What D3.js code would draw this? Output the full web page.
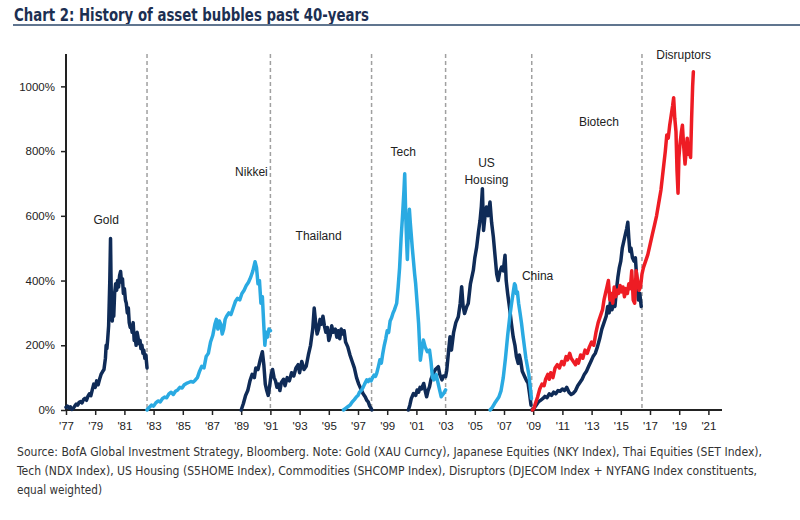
<!DOCTYPE html>
<html><head><meta charset="utf-8">
<script src="https://cdn.jsdelivr.net/npm/d3@7"></script>
<style>body{margin:0;background:#fff}svg{display:block}</style>
</head><body><svg id="c" width="800" height="520"></svg>
<script>
const yTicks=[0,200,400,600,800,1000];
const xTickYears=[1977,1979,1981,1983,1985,1987,1989,1991,1993,1995,1997,1999,2001,2003,2005,2007,2009,2011,2013,2015,2017,2019,2021];
const dividerYears=[1982.55,1991.0,1997.93,2003.0,2008.9,2016.45];
const labels=[
 {name:"Gold",year:1979.75,value:583},
 {name:"Nikkei",year:1989.7,value:734},
 {name:"Thailand",year:1994.3,value:535},
 {name:"Tech",year:2000.1,value:795},
 {name:"US",year:2005.8,value:760},
 {name:"Housing",year:2005.8,value:708},
 {name:"China",year:2009.3,value:410},
 {name:"Biotech",year:2013.5,value:887},
 {name:"Disruptors",year:2019.3,value:1095}
];
const gold=[[1977.0,8],[1977.1,12],[1977.2,6],[1977.3,10],[1977.4,2],[1977.5,5],[1977.6,12],[1977.7,18],[1977.8,15],[1977.9,24],[1978.0,26],[1978.1,22],[1978.2,32],[1978.3,36],[1978.4,30],[1978.5,42],[1978.6,50],[1978.7,44],[1978.8,62],[1978.9,80],[1979.0,70],[1979.1,90],[1979.2,78],[1979.3,95],[1979.4,110],[1979.5,118],[1979.6,125],[1979.7,160],[1979.75,200],[1979.8,190],[1979.85,215],[1979.92,260],[1980.0,400],[1980.05,530],[1980.08,420],[1980.12,300],[1980.17,275],[1980.22,330],[1980.27,290],[1980.33,360],[1980.4,390],[1980.47,370],[1980.53,400],[1980.6,380],[1980.67,415],[1980.74,428],[1980.8,395],[1980.87,405],[1980.93,360],[1981.0,375],[1981.07,340],[1981.13,330],[1981.2,300],[1981.27,315],[1981.33,270],[1981.4,255],[1981.47,260],[1981.53,240],[1981.6,270],[1981.67,215],[1981.73,230],[1981.8,200],[1981.87,240],[1981.93,225],[1982.0,205],[1982.07,215],[1982.13,190],[1982.2,200],[1982.27,175],[1982.33,185],[1982.4,160],[1982.47,170],[1982.55,130]];
const nikkei=[[1982.55,0],[1982.7,8],[1982.85,15],[1983.0,12],[1983.15,22],[1983.3,28],[1983.45,25],[1983.6,35],[1983.75,40],[1983.9,38],[1984.05,50],[1984.2,55],[1984.35,48],[1984.5,58],[1984.65,62],[1984.8,70],[1984.95,68],[1985.1,78],[1985.25,82],[1985.4,85],[1985.55,88],[1985.7,86],[1985.85,92],[1986.0,100],[1986.15,120],[1986.3,135],[1986.45,130],[1986.6,165],[1986.75,175],[1986.9,210],[1987.05,230],[1987.2,265],[1987.3,280],[1987.4,250],[1987.5,275],[1987.6,265],[1987.7,235],[1987.8,250],[1987.9,280],[1988.0,290],[1988.15,300],[1988.3,295],[1988.45,315],[1988.6,335],[1988.75,345],[1988.9,340],[1989.05,360],[1989.2,370],[1989.35,385],[1989.5,395],[1989.65,410],[1989.8,430],[1989.95,458],[1990.05,440],[1990.15,390],[1990.25,400],[1990.35,330],[1990.45,350],[1990.55,260],[1990.62,200],[1990.7,240],[1990.8,225],[1990.9,250],[1991.0,245]];
const thailand=[[1989.0,0],[1989.15,20],[1989.3,45],[1989.45,60],[1989.6,90],[1989.75,110],[1989.9,100],[1990.0,130],[1990.15,125],[1990.3,155],[1990.45,180],[1990.55,140],[1990.65,80],[1990.75,60],[1990.85,45],[1990.95,75],[1991.05,110],[1991.15,125],[1991.25,100],[1991.35,90],[1991.45,70],[1991.55,80],[1991.65,60],[1991.75,85],[1991.9,95],[1992.0,75],[1992.15,100],[1992.3,90],[1992.45,115],[1992.6,105],[1992.75,130],[1992.9,140],[1993.0,115],[1993.15,150],[1993.3,125],[1993.45,135],[1993.6,170],[1993.75,200],[1993.9,250],[1994.0,315],[1994.1,270],[1994.2,235],[1994.3,250],[1994.4,280],[1994.5,265],[1994.6,290],[1994.7,260],[1994.8,240],[1994.9,255],[1995.0,215],[1995.1,230],[1995.2,260],[1995.3,240],[1995.45,250],[1995.55,225],[1995.65,245],[1995.75,220],[1995.85,250],[1995.95,235],[1996.05,245],[1996.15,210],[1996.3,195],[1996.45,170],[1996.6,150],[1996.75,130],[1996.9,100],[1997.05,80],[1997.2,65],[1997.35,50],[1997.5,40],[1997.6,30],[1997.7,25],[1997.8,12],[1997.9,5],[1997.95,0]];
const tech=[[1996.0,0],[1996.15,5],[1996.3,10],[1996.45,15],[1996.6,25],[1996.75,32],[1996.9,41],[1997.0,45],[1997.1,55],[1997.25,62],[1997.35,70],[1997.45,80],[1997.6,93],[1997.7,88],[1997.8,95],[1997.9,90],[1998.0,100],[1998.1,108],[1998.2,104],[1998.28,113],[1998.4,135],[1998.5,155],[1998.6,145],[1998.7,175],[1998.8,200],[1998.9,220],[1999.0,245],[1999.1,240],[1999.2,275],[1999.3,285],[1999.4,300],[1999.5,310],[1999.65,330],[1999.75,380],[1999.85,440],[1999.95,530],[2000.05,600],[2000.15,680],[2000.2,730],[2000.27,600],[2000.33,520],[2000.38,465],[2000.45,560],[2000.52,620],[2000.58,580],[2000.65,540],[2000.72,500],[2000.8,460],[2000.88,420],[2000.95,390],[2001.05,330],[2001.15,268],[2001.22,200],[2001.27,154],[2001.35,180],[2001.48,216],[2001.6,195],[2001.75,180],[2001.9,185],[2002.0,150],[2002.1,100],[2002.2,93],[2002.35,110],[2002.5,80],[2002.6,60],[2002.7,41],[2002.85,50],[2003.0,62]];
const usHousing=[[2000.45,0],[2000.55,15],[2000.65,35],[2000.8,51],[2000.95,45],[2001.05,62],[2001.15,55],[2001.25,70],[2001.35,65],[2001.5,82],[2001.6,60],[2001.7,41],[2001.8,60],[2001.9,72],[2002.0,95],[2002.16,113],[2002.3,125],[2002.5,134],[2002.6,110],[2002.75,93],[2002.85,105],[2003.0,103],[2003.08,123],[2003.2,180],[2003.3,226],[2003.4,185],[2003.55,240],[2003.7,270],[2003.87,288],[2004.0,330],[2004.1,381],[2004.2,320],[2004.3,298],[2004.45,320],[2004.55,329],[2004.7,390],[2004.9,432],[2005.0,470],[2005.13,504],[2005.25,550],[2005.36,586],[2005.45,630],[2005.52,684],[2005.6,555],[2005.7,600],[2005.8,627],[2005.9,600],[2006.04,643],[2006.15,580],[2006.27,535],[2006.4,470],[2006.5,420],[2006.6,400],[2006.7,425],[2006.84,442],[2006.95,430],[2007.07,478],[2007.15,400],[2007.25,360],[2007.4,309],[2007.5,270],[2007.63,226],[2007.75,200],[2007.85,165],[2007.97,144],[2008.05,170],[2008.15,150],[2008.25,120],[2008.42,103],[2008.55,90],[2008.65,83],[2008.75,50],[2008.85,15]];
const china=[[2006.05,0],[2006.2,8],[2006.35,20],[2006.5,30],[2006.65,40],[2006.8,60],[2006.95,100],[2007.1,160],[2007.25,230],[2007.4,290],[2007.52,330],[2007.62,360],[2007.72,390],[2007.78,385],[2007.85,360],[2007.92,365],[2008.0,330],[2008.1,300],[2008.2,268],[2008.3,230],[2008.4,195],[2008.5,160],[2008.6,135],[2008.7,110],[2008.8,70],[2008.88,35]];
const biotech=[[2008.9,0],[2009.05,5],[2009.2,15],[2009.35,25],[2009.5,30],[2009.65,35],[2009.8,42],[2009.95,38],[2010.1,50],[2010.25,45],[2010.4,55],[2010.55,50],[2010.7,60],[2010.85,58],[2011.0,65],[2011.15,60],[2011.3,70],[2011.45,55],[2011.6,48],[2011.75,52],[2011.9,60],[2012.05,75],[2012.2,85],[2012.35,95],[2012.5,110],[2012.65,120],[2012.8,135],[2012.95,150],[2013.1,165],[2013.25,175],[2013.4,195],[2013.55,220],[2013.7,250],[2013.85,270],[2014.0,290],[2014.1,320],[2014.2,300],[2014.3,340],[2014.4,310],[2014.5,330],[2014.6,320],[2014.7,370],[2014.8,410],[2014.9,440],[2015.0,460],[2015.1,500],[2015.2,520],[2015.3,540],[2015.4,560],[2015.48,580],[2015.55,530],[2015.62,490],[2015.7,500],[2015.8,470],[2015.9,460],[2016.0,470],[2016.1,400],[2016.2,340],[2016.3,360],[2016.4,320]];
const disruptors=[[2008.95,0],[2009.05,5],[2009.15,20],[2009.3,40],[2009.45,65],[2009.6,80],[2009.75,75],[2009.85,95],[2010.0,110],[2010.1,95],[2010.2,115],[2010.35,100],[2010.5,130],[2010.65,140],[2010.8,130],[2010.95,150],[2011.1,140],[2011.25,165],[2011.35,155],[2011.5,175],[2011.6,160],[2011.75,150],[2011.9,140],[2012.0,155],[2012.1,145],[2012.25,170],[2012.4,160],[2012.55,185],[2012.7,175],[2012.85,195],[2013.0,210],[2013.15,200],[2013.3,240],[2013.45,270],[2013.6,290],[2013.75,310],[2013.85,340],[2013.95,360],[2014.05,380],[2014.15,400],[2014.25,340],[2014.35,360],[2014.45,330],[2014.55,380],[2014.65,350],[2014.75,370],[2014.85,360],[2014.95,385],[2015.05,365],[2015.15,380],[2015.25,350],[2015.35,375],[2015.45,360],[2015.55,390],[2015.65,375],[2015.75,430],[2015.85,340],[2015.95,330],[2016.05,430],[2016.15,400],[2016.25,370],[2016.35,380],[2016.45,420],[2016.55,440],[2016.7,460],[2016.85,480],[2017.0,510],[2017.15,540],[2017.3,570],[2017.45,600],[2017.6,640],[2017.75,680],[2017.85,720],[2017.95,760],[2018.05,800],[2018.15,850],[2018.25,840],[2018.35,880],[2018.45,910],[2018.55,940],[2018.62,965],[2018.7,900],[2018.78,860],[2018.85,740],[2018.92,670],[2018.98,780],[2019.05,820],[2019.15,860],[2019.22,880],[2019.3,820],[2019.4,760],[2019.48,800],[2019.55,840],[2019.62,790],[2019.7,800],[2019.78,780],[2019.85,900],[2019.92,1000],[2019.97,1045]];

const NAVY="#0f2b57", LIGHT="#2aaae2", RED="#ee1c24";
const seriesList=[
 {data:gold,color:NAVY},{data:nikkei,color:LIGHT},{data:thailand,color:NAVY},
 {data:usHousing,color:NAVY},{data:tech,color:LIGHT},{data:china,color:LIGHT},
 {data:biotech,color:NAVY},{data:disruptors,color:RED}
];

const svg=d3.select("#c");
const x=d3.scaleLinear().domain([1977,2022]).range([66,723]);
const y=d3.scaleLinear().domain([0,1100]).range([410,54]);

svg.append("text").attr("x",14).attr("y",21).attr("font-family","'Liberation Sans Narrow','DejaVu Sans Condensed',sans-serif")
 .attr("font-weight","bold").attr("font-size",18.5).attr("fill","#1c2f52").attr("textLength",355).attr("lengthAdjust","spacingAndGlyphs")
 .text("Chart 2: History of asset bubbles past 40-years");
svg.append("line").attr("x1",13).attr("x2",800).attr("y1",25).attr("y2",25).attr("stroke","#60758f").attr("stroke-width",2);

svg.append("g").selectAll("line").data(dividerYears).join("line")
 .attr("x1",d=>x(d)).attr("x2",d=>x(d)).attr("y1",y(1100)).attr("y2",y(0))
 .attr("stroke","#a0a0a0").attr("stroke-width",1.5).attr("stroke-dasharray","4,3");

const yAxis=d3.axisLeft(y).tickValues(yTicks).tickFormat(d=>d+"%").tickSize(5).tickPadding(6);
const gy=svg.append("g").attr("transform","translate(66,0)").call(yAxis);
gy.select(".domain").attr("stroke","#222").attr("stroke-width",2).attr("d","M0,54V410");
gy.selectAll(".tick line").attr("stroke","#222").attr("stroke-width",1.5);
gy.selectAll("text").attr("font-family","'Liberation Sans',Arial,sans-serif").attr("font-size",11.5).attr("fill","#222");

const xAxis=d3.axisBottom(x).tickValues(xTickYears).tickFormat(d=>"'"+String(d).slice(2)).tickSize(5).tickPadding(7);
const gx=svg.append("g").attr("transform","translate(0,410)").call(xAxis);
gx.select(".domain").attr("stroke","#222").attr("stroke-width",2).attr("d","M66,0H722");
gx.selectAll(".tick line").attr("stroke","#222").attr("stroke-width",1.5);
gx.selectAll("text").attr("font-family","'Liberation Sans',Arial,sans-serif").attr("font-size",11.5).attr("fill","#222");

const line=d3.line().x(d=>x(d[0])).y(d=>y(d[1]));
svg.append("g").selectAll("path").data(seriesList).join("path")
 .attr("d",d=>line(d.data)).attr("fill","none").attr("stroke",d=>d.color)
 .attr("stroke-width",3.5).attr("stroke-linejoin","round").attr("stroke-linecap","round");

svg.append("g").selectAll("text").data(labels).join("text")
 .attr("x",d=>x(d.year)).attr("y",d=>y(d.value)).attr("text-anchor","middle").attr("dominant-baseline","middle")
 .attr("font-family","'Liberation Sans',Arial,sans-serif").attr("font-size",12).attr("fill","#222").text(d=>d.name);

const srcLines=["Source:  BofA Global Investment Strategy, Bloomberg. Note: Gold (XAU Curncy),  Japanese Equities (NKY  Index), Thai Equities (SET  Index),",
"Tech (NDX Index), US Housing  (S5HOME  Index), Commodities (SHCOMP  Index), Disruptors (DJECOM Index + NYFANG Index constituents,",
"equal weighted)"];
const srcW=[745,740,85];
svg.append("g").selectAll("text").data(srcLines).join("text")
 .attr("x",17).attr("y",(d,i)=>456+i*19).attr("font-family","'Liberation Sans Narrow','DejaVu Sans Condensed',sans-serif")
 .attr("font-size",12.5).attr("fill","#333").attr("textLength",(d,i)=>srcW[i]).attr("lengthAdjust","spacingAndGlyphs").text(d=>d);
</script></body></html>
